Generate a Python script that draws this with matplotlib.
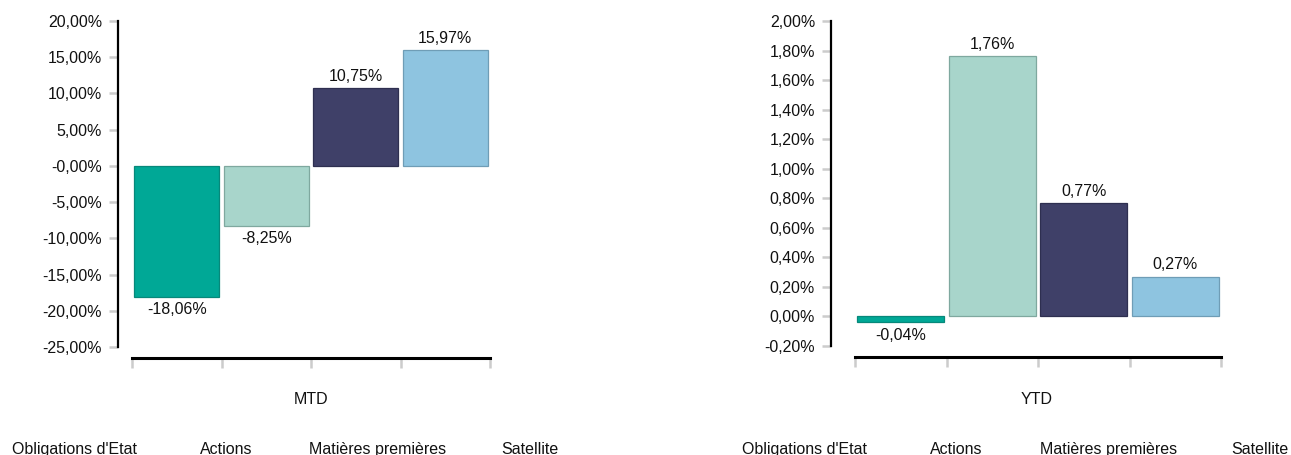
import matplotlib
matplotlib.use("Agg")
import matplotlib.pyplot as plt
from matplotlib.ticker import FuncFormatter

plt.rcParams['font.family'] = ['Liberation Sans', 'DejaVu Sans']

categories = ["Obligations d'Etat", "Actions", "Matières premières", "Satellite"]
mtd_values = [-18.06, -8.25, 10.75, 15.97]
ytd_values = [-0.04, 1.76, 0.77, 0.27]
mtd_ticks = [-25, -20, -15, -10, -5, 0, 5, 10, 15, 20]
ytd_ticks = [-0.2, 0.0, 0.2, 0.4, 0.6, 0.8, 1.0, 1.2, 1.4, 1.6, 1.8, 2.0]
bar_colors = ["#00A896", "#A8D5CB", "#3F4068", "#8EC4E0"]
edge_colors = ["#07887A", "#7FA89F", "#2E2F50", "#6F9DB6"]

W, H = 1291, 455
fig = plt.figure(figsize=(W / 100, H / 100), dpi=100)
FS = 11.5


def fmt_pct(v):
    s = f"{v:.2f}".replace(".", ",")
    return s + "%"


def make_panel(x_axis_px, x_first_tick, x_last_tick, y_top, y_bot, ylim, ticks, values,
               title, title_x, label_xs, neg_zero):
    unit = (x_last_tick - x_first_tick) / 4.0
    xmin = -0.5 - (x_first_tick - x_axis_px) / unit
    xmax = 3.5 + 1.5 / unit
    right_px = x_first_tick + (xmax + 0.5) * unit
    ax = fig.add_axes([x_axis_px / W, 1 - y_bot / H, (right_px - x_axis_px) / W, (y_bot - y_top) / H])
    ax.set_xlim(xmin, xmax)
    ax.set_ylim(*ylim)
    xs = list(range(len(values)))
    ax.bar(xs, values, width=0.95, color=bar_colors, edgecolor=edge_colors, linewidth=0.9, zorder=3)
    for x, v in zip(xs, values):
        lab = fmt_pct(v)
        if v >= 0:
            ax.annotate(lab, (x, v), xytext=(0, 3), textcoords="offset points",
                        ha="center", va="bottom", fontsize=FS, color="#111111")
        else:
            ax.annotate(lab, (x, v), xytext=(0, -4), textcoords="offset points",
                        ha="center", va="top", fontsize=FS, color="#111111")
    for s in ["top", "right"]:
        ax.spines[s].set_visible(False)
    ax.spines["left"].set_linewidth(1.6)
    ax.spines["left"].set_color("black")
    ax.spines["left"].set_bounds(ylim[0], ylim[1])
    ax.spines["bottom"].set_position(("outward", 8.0))
    ax.spines["bottom"].set_linewidth(2.2)
    ax.spines["bottom"].set_color("black")
    ax.spines["bottom"].set_bounds(-0.5, 3.5)
    ax.set_yticks(ticks)
    ax.yaxis.set_major_formatter(FuncFormatter(
        lambda v, p: ("-0,00%" if neg_zero else "0,00%") if abs(v) < 1e-9 else fmt_pct(v)))
    ax.tick_params(axis="y", direction="out", length=6.5, width=1.8, color="#CCCCCC",
                   labelsize=FS, labelcolor="#111111", pad=5)
    ax.set_xticks([-0.5, 0.5, 1.5, 2.5, 3.5])
    ax.set_xticklabels([])
    ax.tick_params(axis="x", direction="out", length=7.5, width=1.8, color="#CCCCCC")
    ax.patch.set_alpha(0)
    fig.text(title_x / W, 1 - 399 / H, title, ha="center", va="center", fontsize=FS, color="#111111")
    for lx, c in zip(label_xs, categories):
        fig.text(lx / W, 1 - 454 / H, c, ha="center", va="baseline", fontsize=FS, color="#111111")
    return ax


make_panel(118, 132, 490, 21, 347, (-25, 20), mtd_ticks, mtd_values, "MTD", 311,
           [74, 226, 378, 530], True)
make_panel(831, 855, 1221, 21, 346, (-0.2, 2.0), ytd_ticks, ytd_values, "YTD", 1037,
           [804, 956, 1109, 1260], False)

fig.savefig("out.png", dpi=100)
